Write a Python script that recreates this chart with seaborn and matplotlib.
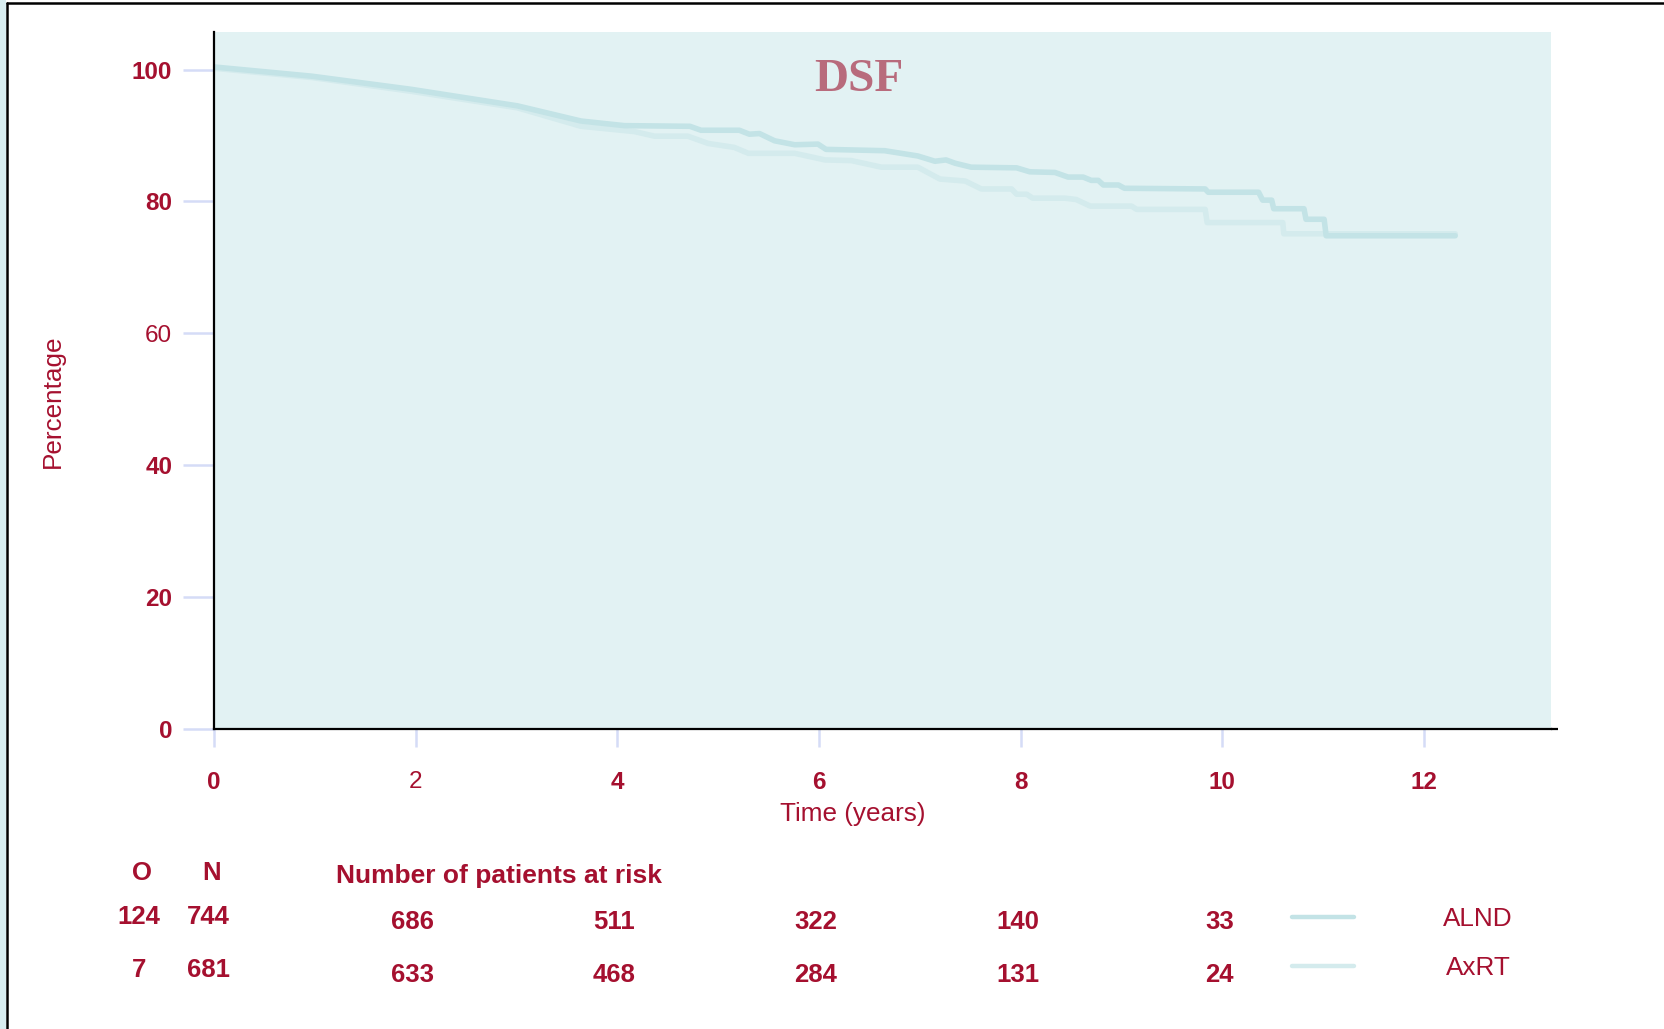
import matplotlib
matplotlib.use('Agg')
import matplotlib.pyplot as plt
import matplotlib.transforms as mtransforms
from matplotlib.lines import Line2D
from matplotlib.patches import Rectangle
import seaborn as sns
import pandas as pd

# Curvas de supervivencia
alnd_t = [0.0, 0.97, 1.96, 3.01, 3.64, 4.07, 4.72, 4.83, 5.21, 5.31, 5.41, 5.56, 5.76, 5.99,
          6.07, 6.65, 6.98, 7.15, 7.26, 7.35, 7.51, 7.96, 8.09, 8.34, 8.47, 8.62, 8.70, 8.77,
          8.82, 8.97, 9.03, 9.83, 9.86, 10.36, 10.40, 10.49, 10.51, 10.81, 10.83, 11.01, 11.03, 12.31]
alnd_pct = [100.4, 99.0, 97.0, 94.5, 92.2, 91.5, 91.4, 90.8, 90.8, 90.2, 90.3, 89.2, 88.6, 88.7,
            87.9, 87.7, 86.9, 86.1, 86.3, 85.8, 85.2, 85.1, 84.5, 84.4, 83.7, 83.7, 83.2, 83.2,
            82.5, 82.5, 82.0, 81.9, 81.4, 81.4, 80.2, 80.2, 78.9, 78.9, 77.3, 77.3, 74.8, 74.8]
axrt_t = [0.0, 0.97, 1.96, 3.01, 3.64, 4.17, 4.37, 4.70, 4.90, 5.16, 5.30, 5.76, 6.06, 6.32,
          6.62, 6.98, 7.20, 7.45, 7.61, 7.91, 7.96, 8.06, 8.12, 8.44, 8.55, 8.69, 9.10, 9.15,
          9.83, 9.85, 10.60, 10.61, 12.31]
axrt_pct = [100.2, 98.8, 96.7, 94.2, 91.4, 90.6, 89.9, 89.9, 88.8, 88.2, 87.3, 87.3, 86.3, 86.2,
            85.2, 85.2, 83.4, 83.1, 81.9, 81.9, 81.1, 81.1, 80.5, 80.5, 80.3, 79.3, 79.3, 78.8,
            78.8, 76.8, 76.8, 75.1, 75.1]

grupos = ['ALND', 'AxRT']
colores = ['#c3e3e6', '#d4ebed']
observados = ['124', '7']
totales = ['744', '681']
tiempos_riesgo = [2, 4, 6, 8, 10]
en_riesgo = [['686', '511', '322', '140', '33'],
             ['633', '468', '284', '131', '24']]

xticks = [0, 2, 4, 6, 8, 10, 12]
yticks = [0, 20, 40, 60, 80, 100]

rojo = '#a5102f'

df = pd.concat([
    pd.DataFrame({'tiempo': alnd_t, 'pct': alnd_pct, 'grupo': 'ALND'}),
    pd.DataFrame({'tiempo': axrt_t, 'pct': axrt_pct, 'grupo': 'AxRT'}),
])

sns.set_theme(style='white')
plt.rcParams['font.family'] = ['Liberation Sans', 'DejaVu Sans']

W, H = 1664, 1029
fig = plt.figure(figsize=(W / 100, H / 100), dpi=100)
ax = fig.add_axes([214 / W, 1 - 729 / H, (1551 - 214) / W, (729 - 32) / H])
ax.set_facecolor('#e2f2f3')

sns.lineplot(data=df, x='tiempo', y='pct', hue='grupo', hue_order=grupos[::-1],
             palette=dict(zip(grupos, colores)), estimator=None, sort=False,
             linewidth=4.0, legend=False, ax=ax)

ax.set_xlim(0, 13.26)
ax.set_ylim(0, 105.7)
ax.set_xticks(xticks)
ax.set_yticks(yticks)
ax.set_xlabel('')
ax.set_ylabel('')

for s in ['top', 'right']:
    ax.spines[s].set_visible(False)
for s in ['left', 'bottom']:
    ax.spines[s].set_color('black')
    ax.spines[s].set_linewidth(1.6)
# el eje x se prolonga un poco más allá del fondo
ax.plot([13.26, 13.33], [0, 0], color='black', linewidth=1.6, clip_on=False,
        solid_capstyle='butt')

ax.tick_params(axis='y', direction='out', length=22, width=1.8, color='#d5dcf7',
               pad=8, labelsize=17.5, labelcolor=rojo, left=True)
ax.tick_params(axis='x', direction='out', length=13, width=1.8, color='#d5dcf7',
               pad=17, labelsize=17.5, labelcolor=rojo, bottom=True)
for lab in ax.get_xticklabels() + ax.get_yticklabels():
    lab.set_fontweight('bold')
ax.get_xticklabels()[1].set_fontweight('normal')
ax.get_yticklabels()[3].set_fontweight('normal')

# Título dentro del gráfico
ax.text(0.482, 0.9154, 'DSF', transform=ax.transAxes, ha='center', va='baseline',
        fontsize=34, fontweight='bold', color='#b86b7c', family='Liberation Serif')

fig.text(853 / W, 1 - 814 / H, 'Time (years)', ha='center', va='center',
         fontsize=18.8, color=rojo)
fig.text(53 / W, 1 - 401 / H, 'Percentage', ha='center', va='center',
         rotation=90, fontsize=18.8, color=rojo)

# Tabla de pacientes en riesgo
fig.text(142 / W, 1 - 873 / H, 'O', ha='center', va='center', fontsize=18.5,
         fontweight='bold', color=rojo)
fig.text(212 / W, 1 - 873 / H, 'N', ha='center', va='center', fontsize=18.5,
         fontweight='bold', color=rojo)
fig.text(499 / W, 1 - 876 / H, 'Number of patients at risk', ha='center', va='center',
         fontsize=19, fontweight='bold', color=rojo)

trans = mtransforms.blended_transform_factory(ax.transData, fig.transFigure)
filas_y = [(917, 922), (970, 975)]
for i in range(2):
    y_on, y_r = filas_y[i]
    fig.text(139 / W, 1 - y_on / H, observados[i], ha='center', va='center',
             fontsize=18.5, fontweight='bold', color=rojo)
    fig.text(208 / W, 1 - y_on / H, totales[i], ha='center', va='center',
             fontsize=18.5, fontweight='bold', color=rojo)
    for t, n in zip(tiempos_riesgo, en_riesgo[i]):
        ax.text(t - 0.03, 1 - y_r / H, n, transform=trans, ha='center', va='center',
                fontsize=18.5, fontweight='bold', color=rojo, clip_on=False)

# Leyenda manual
leyenda_y = [917, 966]
for i, g in enumerate(grupos):
    fig.add_artist(Line2D([1292 / W, 1354 / W], [1 - leyenda_y[i] / H] * 2,
                          color=colores[i], linewidth=3.2))
    fig.text(1478 / W, 1 - (leyenda_y[i] + 2) / H, g, ha='center', va='center',
             fontsize=18.8, color=rojo)

# Marco de la imagen
fig.add_artist(Rectangle((0, 0), 6 / W, 1, transform=fig.transFigure,
                         facecolor='#d8edf0', edgecolor='none'))
fig.add_artist(Line2D([7.3 / W, 7.3 / W], [0, 1 - 3.3 / H], color='black', linewidth=1.8))
fig.add_artist(Line2D([7.3 / W, 1], [1 - 3.3 / H] * 2, color='black', linewidth=1.8))

fig.savefig('out.png', dpi=100)
